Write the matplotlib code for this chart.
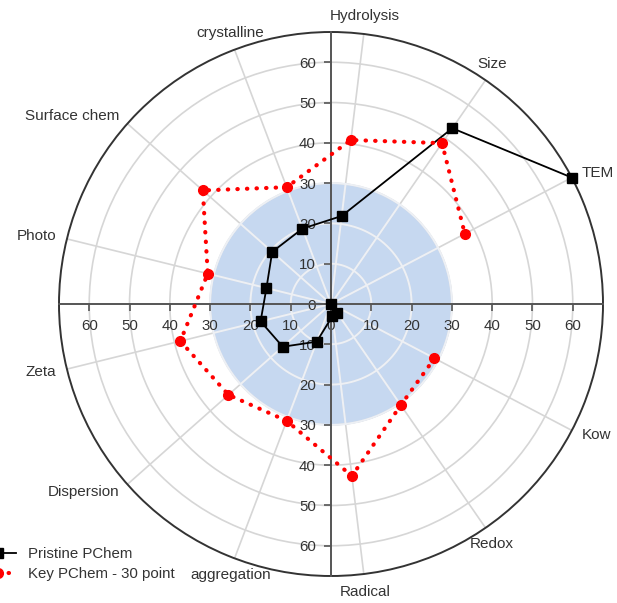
import numpy as np
import matplotlib
matplotlib.use('Agg')
import matplotlib.pyplot as plt

plt.rcParams['font.family'] = ['Liberation Sans', 'DejaVu Sans']

# spokes, clockwise from 3 o'clock; the first spoke has no label
categories = ['', 'Kow', 'Redox', 'Radical', 'aggregation', 'Dispersion', 'Zeta',
              'Photo', 'Surface chem', 'crystalline', 'Hydrolysis', 'Size', 'TEM']
pristine = [np.nan, 0, 2.7, 3, 10, 16, 18, 16.5, 19.5, 20, 22, 53, 67.5]
key_30 = [np.nan, 29, 30.5, 43, 31, 34, 38.5, 31.5, 42.5, 31, 41, 48.5, 37.5]
ring_ticks = [10, 20, 30, 40, 50, 60]
shade_r = 30
r_max = 67.5

n = len(categories)
theta = np.arange(n) * 2 * np.pi / n

fig = plt.figure(figsize=(6.17, 6.03), dpi=100)
rect = [59 / 617, 27 / 603, 544 / 617, 544 / 603]

# background: shaded core, rings, spokes, category names
ax = fig.add_axes(rect, projection='polar')
ax.set_theta_offset(0)
ax.set_theta_direction(-1)
ax.set_ylim(0, r_max)
tt = np.linspace(0, 2 * np.pi, 400)
ax.fill_between(tt, 0, shade_r, color='#c6d8f0', zorder=0, lw=0)
ax.set_rgrids(ring_ticks, labels=[''] * len(ring_ticks))
ax.set_thetagrids(np.degrees(theta), labels=[''] * n)
ax.grid(True, color='#d6d6d6', lw=1.2)
# lighter grid inside the shaded core
core_grid = dict(color='#edf0f5', lw=1.4, zorder=2)
for r in [x for x in ring_ticks if x <= shade_r]:
    ax.plot(tt, np.full_like(tt, r), **core_grid)
for t in theta:
    ax.plot([t, t], [0, shade_r], **core_grid)
ax.spines['polar'].set_color('#333333')
ax.spines['polar'].set_linewidth(1.4)
ax.tick_params(axis='x', direction='out', length=4, width=1, color='#333333', pad=0)
ax.tick_params(axis='y', length=0)
for t, name in zip(theta, categories):
    c, s = np.cos(t), -np.sin(t)
    if abs(c) > 0.65:
        ha = 'left' if c > 0 else 'right'
        va = 'center'
    else:
        ha = 'center'
        va = 'bottom' if s > 0 else 'top'
    ax.text(t, 70.2, name, ha=ha, va=va, fontsize=11, color='#333333', clip_on=False)

# cross axes through the centre
axc = fig.add_axes(rect)
axc.set_xlim(-r_max, r_max)
axc.set_ylim(-r_max, r_max)
axc.patch.set_alpha(0)
for side in ['top', 'right']:
    axc.spines[side].set_visible(False)
for side in ['left', 'bottom']:
    axc.spines[side].set_position('zero')
    axc.spines[side].set_color('#555555')
    axc.spines[side].set_linewidth(1.4)
ticks = np.arange(-60, 61, 10)
axc.set_xticks(ticks)
axc.set_xticklabels([str(abs(v)) for v in ticks])
axc.set_yticks(ticks)
axc.set_yticklabels([str(abs(v)) for v in ticks])
axc.tick_params(direction='out', length=5, width=1.2, color='#555555',
                labelsize=10.8, labelcolor='#333333', pad=6)

# data on top
axd = fig.add_axes(rect, projection='polar')
axd.set_theta_offset(0)
axd.set_theta_direction(-1)
axd.set_ylim(0, r_max)
axd.patch.set_alpha(0)
axd.axis('off')
axd.plot(theta, pristine, color='black', lw=1.3, marker='s', markersize=7,
         label='Pristine PChem', clip_on=False)
axd.plot(theta, key_30, color='red', lw=3, linestyle=(0, (0.1, 2.2)),
         dash_capstyle='round', marker='o', markersize=7,
         label='Key PChem - 30 point', clip_on=False)

fig.legend(loc='upper left', bbox_to_anchor=(-20 / 617, 1 - 547 / 603),
           frameon=False, fontsize=10.8, handlelength=2.4, handletextpad=0.8,
           labelspacing=0.4, borderpad=0, borderaxespad=0, labelcolor='#333333')

fig.savefig('out.png', dpi=100)
